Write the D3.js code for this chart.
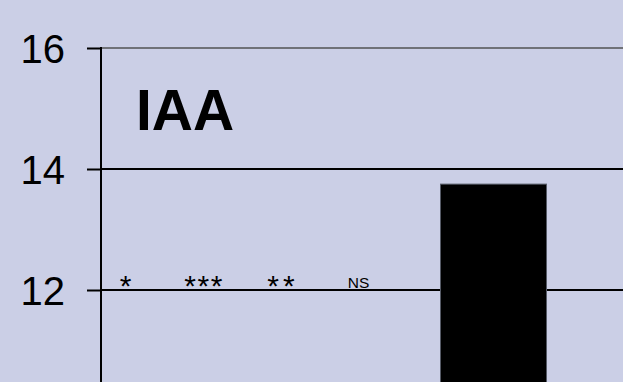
<!DOCTYPE html>
<html>
<head>
<meta charset="utf-8">
<script src="https://cdn.jsdelivr.net/npm/d3@7"></script>
<style>
  html, body { margin: 0; padding: 0; background: #cbcfe6; overflow: hidden; }
  svg { display: block; font-family: "Liberation Sans", Arial, sans-serif; }
</style>
</head>
<body>
<svg id="chart" width="623" height="382"></svg>
<script>
// ---- data ----
const yTicks = [12, 14, 16];
const barCategories = ["IAA"];
const barValues = [13.75];
const annotationLabels = ["*", "***", "**", "NS"];
const chartTitle = "IAA";

// ---- layout ----
const W = 623, H = 382;
const axisX = 101;
const svg = d3.select("#chart");

svg.append("rect").attr("width", W).attr("height", H).attr("fill", "#cbcfe6");

const y = d3.scaleLinear().domain([10, 16]).range([411, 48]);
const xBar = d3.scaleBand().domain(barCategories).range([440.5, 546.5]).padding(0);
const xAnn = d3.scalePoint().domain(annotationLabels.map((d, i) => i)).range([125.7, 358.5]);

// gridlines
svg.append("g").selectAll("line").data(yTicks).join("line")
  .attr("x1", axisX).attr("x2", W)
  .attr("y1", d => y(d)).attr("y2", d => y(d))
  .attr("stroke", d => d === 16 ? "#707278" : "#000")
  .attr("stroke-width", 2);

// bars
svg.append("g").selectAll("rect").data(barValues).join("rect")
  .attr("x", (d, i) => xBar(barCategories[i]))
  .attr("width", xBar.bandwidth())
  .attr("y", d => y(d))
  .attr("height", d => y(10) - y(d))
  .attr("fill", "#000")
  .attr("stroke", "#555a66")
  .attr("stroke-width", 1);

// y axis
const axis = d3.axisLeft(y).tickValues(yTicks).tickSize(14).tickPadding(22).tickFormat(d3.format("d"));
const gAxis = svg.append("g").attr("transform", `translate(${axisX},0)`).call(axis);
gAxis.select(".domain").remove();
gAxis.selectAll(".tick line").attr("stroke", "#000").attr("stroke-width", 2);
gAxis.selectAll(".tick text")
  .attr("font-size", 40)
  .attr("font-family", "Liberation Sans, Arial, sans-serif")
  .attr("fill", "#000")
  .attr("dy", "0.36em");
gAxis.append("line").attr("x1", 0).attr("x2", 0).attr("y1", y(16) - 1).attr("y2", H)
  .attr("stroke", "#000").attr("stroke-width", 2);

// annotations
const spacing = {"*": 0, "***": 1.5, "**": 4, "NS": 0};
svg.append("g").selectAll("text").data(annotationLabels).join("text")
  .attr("x", (d, i) => xAnn(i) + spacing[d] / 2)
  .attr("y", d => d === "NS" ? 287.5 : 295.5)
  .attr("text-anchor", "middle")
  .attr("font-size", d => d === "NS" ? 15.5 : 30)
  .attr("letter-spacing", d => spacing[d])
  .attr("fill", "#000")
  .text(d => d);

// title
svg.append("text")
  .attr("x", 136).attr("y", 130)
  .attr("font-size", 57).attr("font-weight", "bold")
  .attr("fill", "#000")
  .text(chartTitle);
</script>
</body>
</html>
